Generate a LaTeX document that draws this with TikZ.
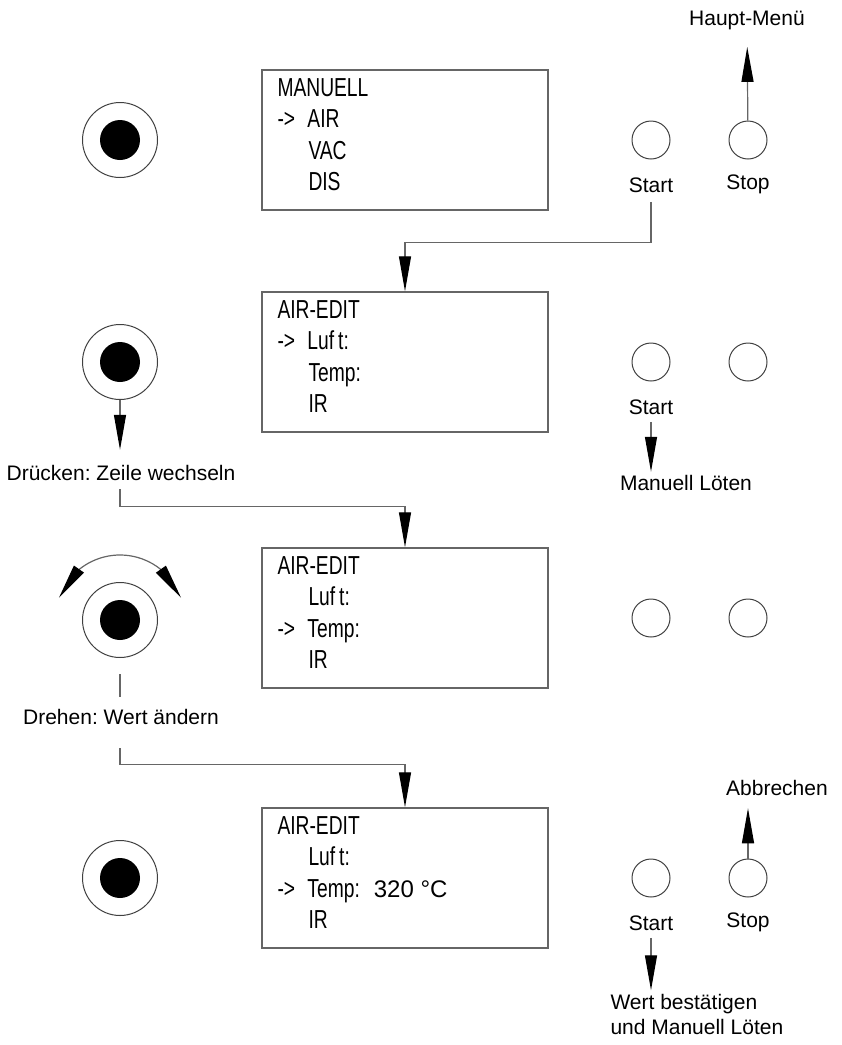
\documentclass[tikz,border=0pt]{standalone}
\usepackage{fontspec}
\setmainfont{Liberation Sans}
\newfontfamily\lcdfont[FakeStretch=0.74]{Liberation Sans}
\usetikzlibrary{arrows.meta,bending}
\frenchspacing
\newcommand\selmark{\makebox[30pt][l]{->}}
\newcommand\indmark{\hspace*{31pt}}
\tikzset{
  wire/.style={draw=black!60, line width=1.2pt},
  flow/.style={wire, -{Triangle[length=35pt,width=12pt,black]}},
  screen/.style={draw=black!60, line width=1.4pt, minimum width=286pt, minimum height=140pt, inner sep=0},
  disp/.style={anchor=north west, inner sep=0, align=left, font=\lcdfont\fontsize{26}{31.5}\selectfont},
  knob/.style={circle, draw=black!75, line width=1pt, minimum size=75pt, inner sep=0,
    path picture={\fill (path picture bounding box.center) circle[radius=20pt];}},
  btn/.style={circle, draw=black!75, line width=1pt, minimum size=38pt, inner sep=0},
  lbl/.style={font=\fontsize{21}{25}\selectfont}
}
\begin{document}
\begin{tikzpicture}[x=1pt,y=-1pt]
\useasboundingbox (0,0) rectangle (842,1045);

\node[knob] (k1) at (120,140) {};
\node[knob] (k2) at (120,362) {};
\node[knob] (k3) at (120,620) {};
\node[knob] (k4) at (120,878) {};

\node[screen] (box1) at (405,140) {};
\node[screen] (box2) at (405,362) {};
\node[screen] (box3) at (405,618) {};
\node[screen] (box4) at (405,878) {};
\node[disp] (t1) at ([shift={(16,9)}]box1.north west) {MANUELL\\\selmark AIR\\\indmark VAC\\\indmark DIS};
\node[disp] (t2) at ([shift={(16,9)}]box2.north west) {AIR-EDIT\\\selmark Luf\kern4pt t:\\\indmark Temp:\\\indmark IR};
\node[disp] (t3) at ([shift={(16,9)}]box3.north west) {AIR-EDIT\\\indmark Luf\kern4pt t:\\\selmark Temp:\\\indmark IR};
\node[disp] (t4) at ([shift={(16,9)}]box4.north west) {AIR-EDIT\\\indmark Luf\kern4pt t:\\\selmark Temp:\hspace{14pt}{\rmfamily\fontsize{24}{31.5}\selectfont 320 °C}\\\indmark IR};

\node[btn] (start1) at (651,140) {};
\node[btn] (stop1) at (748,140) {};
\node[btn] (start2) at (651,362) {};
\node[btn] (stop2) at (748,362) {};
\node[btn] (start3) at (651,618) {};
\node[btn] (stop3) at (748,618) {};
\node[btn] (start4) at (651,878) {};
\node[btn] (stop4) at (748,878) {};

\node[lbl] (menu) at (747,20) {Haupt-Menü};
\node[lbl] (ls1) at (651,185) {Start};
\node[lbl] (lp1) at (748,184) {Stop};
\node[lbl] (ls2) at (651,407) {Start};
\node[lbl] (ml) at (686,483) {Manuell Löten};
\node[lbl] (dr) at (121,473) {Drücken: Zeile wechseln};
\node[lbl] (dh) at (121,717) {Drehen: Wert ändern};
\node[lbl] (ab) at (777,788) {Abbrechen};
\node[lbl] (ls4) at (651,923) {Start};
\node[lbl] (lp4) at (748,922) {Stop};
\node[lbl, align=left, anchor=west] (wb) at (607,1014) {Wert bestätigen\\und Manuell Löten};

\draw[flow, shorten >=14pt] (stop1) -- (menu);
\draw[flow, shorten <=6pt] (ls1.south) |- ([yshift=49pt]box2.north) -- (box2.north);
\draw[flow, shorten <=4pt] (ls2.south) -- (ls2.south |- ml.north);
\draw[flow, shorten >=12pt] (k2.south) -- (k2.south |- dr.north);
\draw[flow, shorten <=5pt] (k2 |- dr.south) |- ([yshift=41pt]box3.north) -- (box3.north);
\draw[wire, {Triangle[length=35pt,width=12pt,black]}-{Triangle[length=35pt,width=12pt,black]}]
  ([shift={(-160:65)}]k3.center) arc[start angle=-160, end angle=-20, radius=65];
\draw[wire, shorten <=16pt, shorten >=9pt] (k3.south) -- (k3.south |- dh.north);
\draw[flow, shorten <=20pt] (k3 |- dh.south) |- ([yshift=43pt]box4.north) -- (box4.north);
\draw[flow, shorten >=9pt] (stop4.north) -- (stop4.north |- ab.south);
\draw[flow, shorten <=4pt] (ls4.south) -- (ls4.south |- wb.north);
\end{tikzpicture}
\end{document}
